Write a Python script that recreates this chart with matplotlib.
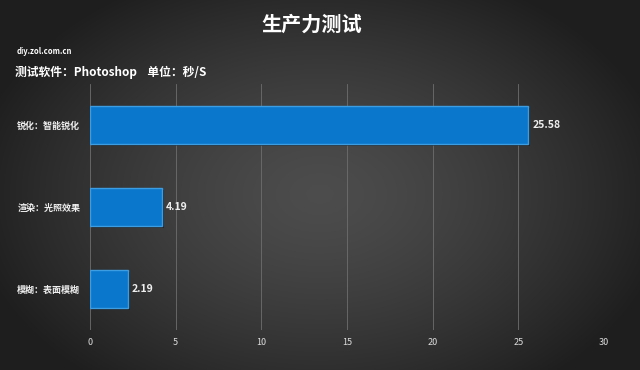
import matplotlib
matplotlib.use('Agg')
import matplotlib.pyplot as plt
import numpy as np

plt.rcParams['font.family'] = ['Noto Sans CJK SC', 'DejaVu Sans']

# data
categories = ['模糊：表面模糊', '渲染：光照效果', '锐化：智能锐化']
values = [2.19, 4.19, 25.58]
xticks = [0, 5, 10, 15, 20, 25, 30]

fig = plt.figure(figsize=(6.4, 3.7), dpi=100)

# dark radial background
bg = fig.add_axes([0, 0, 1, 1], zorder=-10)
gx, gy = np.meshgrid(np.linspace(-1, 1, 640), np.linspace(-1, 1, 370))
r = np.sqrt(((gx - 0.0) / 1.1) ** 2 + ((gy - 0.05) / 1.3) ** 2)
shade = 0.30 - 0.18 * np.clip(r, 0, 1) ** 1.4
bg.imshow(np.dstack([shade] * 3), aspect='auto', extent=[0, 1, 0, 1])
bg.axis('off')

ax = fig.add_axes([90 / 640, 1 - 330 / 370, (604 - 90) / 640, (330 - 84) / 370])
ax.patch.set_alpha(0)
ypos = np.arange(len(categories))

# shadow + bars
ax.barh(ypos - 0.02, values, height=0.46, left=0.12, color='#1a1a1a', alpha=0.6, zorder=2)
ax.barh(ypos, values, height=0.46, color='#0a76cc', edgecolor='#3d9de3', linewidth=1.0, zorder=3)

for y, v in zip(ypos, values):
    ax.text(v + 0.25, y, f'{v:.2f}', va='center', ha='left', color='#eeeeee',
            fontsize=7.5, fontweight='bold')

ax.set_xlim(0, 30)
ax.set_ylim(-0.5, 2.5)
ax.set_xticks(xticks)
ax.set_xticklabels([str(t) for t in xticks], color='#dddddd', fontsize=6.5)
ax.set_yticks(ypos)
ax.set_yticklabels(categories, color='#eeeeee', fontsize=6.5, fontweight='bold')
ax.tick_params(axis='x', length=0, pad=6)
ax.tick_params(axis='y', length=0, pad=7)
ax.grid(axis='x', color='#6e6e6e', linewidth=0.6, zorder=0)
for s in ax.spines.values():
    s.set_visible(False)

fig.text(312 / 640, 1 - 24 / 370, '生产力测试', ha='center', va='center', color='white',
         fontsize=14.5, fontweight='bold')
fig.text(17 / 640, 1 - 51 / 370, 'diy.zol.com.cn', ha='left', va='center', color='white',
         fontsize=5.5, fontweight='bold')
fig.text(15 / 640, 1 - 72 / 370, '测试软件：Photoshop    单位：秒/S', ha='left', va='center',
         color='white', fontsize=8.5, fontweight='bold')

fig.savefig('out.png', dpi=100)
